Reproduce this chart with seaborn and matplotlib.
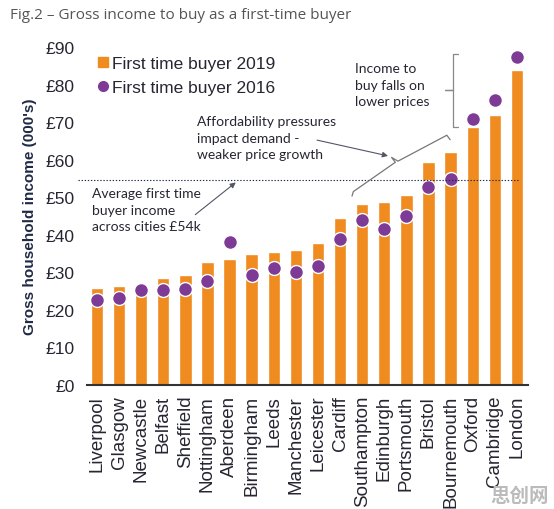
import matplotlib
matplotlib.use("Agg")
import matplotlib.pyplot as plt
from matplotlib.lines import Line2D
import seaborn as sns

# values (GBP 000's)
cities = ['Liverpool', 'Glasgow', 'Newcastle', 'Belfast', 'Sheffield', 'Nottingham',
          'Aberdeen', 'Birmingham', 'Leeds', 'Manchester', 'Leicester', 'Cardiff',
          'Southampton', 'Edinburgh', 'Portsmouth', 'Bristol', 'Bournemouth',
          'Oxford', 'Cambridge', 'London']
ftb_2019 = [25.9, 26.4, 27.0, 28.6, 29.4, 32.8, 33.6, 35.0, 35.3, 35.9,
            37.7, 44.4, 48.3, 48.7, 50.6, 59.4, 62.0, 68.7, 71.8, 83.8]
ftb_2016 = [22.7, 23.2, 25.2, 25.2, 25.7, 27.6, 38.2, 29.3, 31.1, 30.1,
            31.6, 38.8, 43.9, 41.5, 44.9, 52.8, 54.8, 70.7, 76.0, 87.2]
avg_income = 54.6
y_ticks = [0, 10, 20, 30, 40, 50, 60, 70, 80, 90]
y_labels = ['£' + str(v) for v in y_ticks]

orange = '#EF8B1F'
purple = '#7E3B96'
navy = '#1F2A44'
ink = '#262633'

sns.set_style('white')
plt.rcParams['font.family'] = ['Liberation Sans', 'DejaVu Sans']

fig = plt.figure(figsize=(5.54, 5.10), dpi=100)
ax = fig.add_axes([0.157, 0.243, 0.796, 0.663])

sns.barplot(x=cities, y=ftb_2019, color=orange, width=0.56, saturation=1, ax=ax)
sns.stripplot(x=cities, y=ftb_2016, color=purple, jitter=False, size=10,
              edgecolor='white', linewidth=1, ax=ax, zorder=4)

ax.set_xlim(-0.45, 19.5)
ax.set_ylim(0, 90)
ax.set_yticks(y_ticks)
ax.set_yticklabels(y_labels, fontsize=12.5, color=ink)
ax.tick_params(axis='y', length=0, pad=9)
ax.tick_params(axis='x', length=0, pad=7, labelrotation=90, labelsize=13.5, labelcolor=ink)
for s in ['left', 'right', 'top']:
    ax.spines[s].set_visible(False)
ax.spines['bottom'].set_color('#333333')
ax.spines['bottom'].set_linewidth(1.5)
ax.set_ylabel("Gross household income (000's)", fontsize=11, fontweight='bold',
              color=navy, labelpad=6)

# average line
ax.plot([-0.86, 19.06], [avg_income, avg_income], linestyle=(0, (1.2, 1.6)),
        color=navy, linewidth=0.8, clip_on=False, zorder=5)

# legend
handles = [Line2D([], [], marker='s', linestyle='none', color=orange, markersize=7),
           Line2D([], [], marker='o', linestyle='none', color=purple, markersize=7)]
ax.legend(handles, ['First time buyer 2019', 'First time buyer 2016'],
          loc='upper left', bbox_to_anchor=(0.005, 1.0), frameon=False,
          fontsize=12.5, handlelength=0.6, handletextpad=0.2, labelspacing=0.5,
          borderpad=0, labelcolor=ink)

note_font = ['Lato', 'DejaVu Sans']
ax.text(-0.23, 52.6, 'Average first time\nbuyer income\nacross cities £54k',
        family=note_font, fontsize=10, color=ink, va='top', linespacing=1.45)
ax.annotate('', xy=(6.38, 54.4), xytext=(4.35, 44.9),
            arrowprops=dict(arrowstyle='-|>', color='#555566', lw=0.8,
                            mutation_scale=8), annotation_clip=False)

ax.text(4.53, 71.8, 'Affordability pressures\nimpact demand -\nweaker price growth',
        family=note_font, fontsize=10, color=ink, va='top', linespacing=1.45)
ax.annotate('', xy=(13.17, 61.0), xytext=(9.96, 65.2),
            arrowprops=dict(arrowstyle='-|>', color='#555566', lw=0.8,
                            mutation_scale=8, shrinkA=0, shrinkB=0))
ax.plot([11.54, 11.6, 13.5, 13.33, 13.62, 15.83, 15.98],
        [50.3, 51.5, 59.3, 60.6, 59.6, 66.5, 65.3], color='#777777', lw=0.9, zorder=5)

ax.text(11.68, 85.9, 'Income to\nbuy falls on\nlower prices',
        family=note_font, fontsize=10, color=ink, va='top', linespacing=1.45)
ax.plot([16.34, 16.12, 16.12, 15.75, 16.12, 16.12, 16.34],
        [88.2, 88.2, 78.6, 78.6, 78.6, 68.7, 68.7], color='#888888', lw=0.9,
        clip_on=False, zorder=5)

fig.text(0.018, 0.985, 'Fig.2 – Gross income to buy as a first-time buyer',
         family=['Open Sans', 'DejaVu Sans'], fontsize=11, color='#555555', va='top')
fig.text(0.99, 0.008, '思创网', family=['Noto Sans CJK SC', 'DejaVu Sans'],
         fontsize=14, fontweight='bold', color='#BBBBBB', ha='right', va='bottom')

fig.savefig('out.png', dpi=100)
